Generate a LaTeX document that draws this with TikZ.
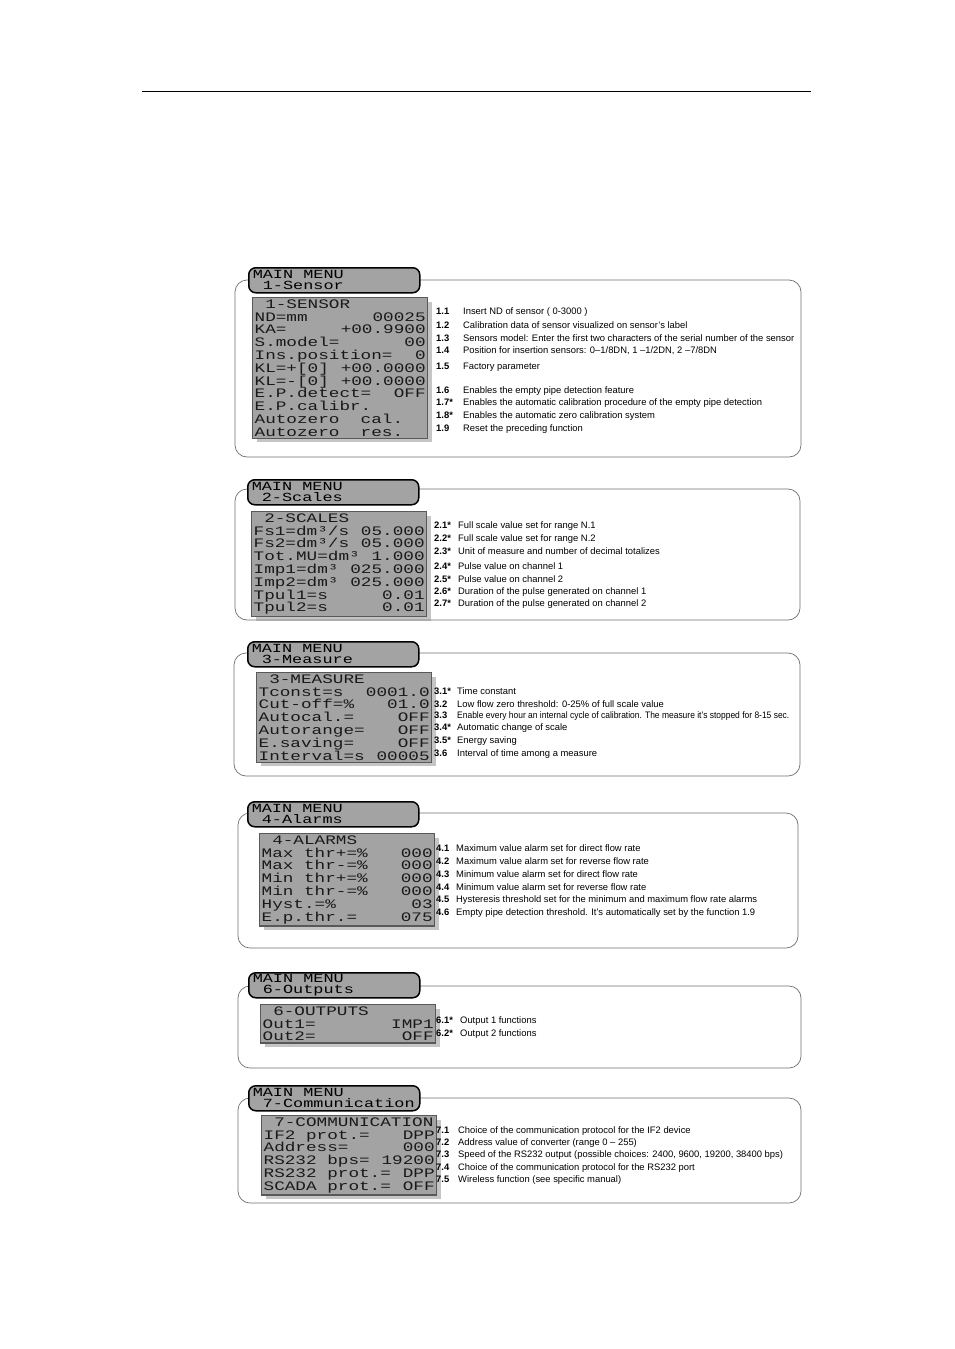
\documentclass[tikz,border=0pt]{standalone}
\usepackage{fontspec}
\setmainfont{Liberation Sans}
\newfontfamily\lcdfont[FakeStretch=1.36]{Liberation Mono}
\usepackage{xcolor}
\usepackage{tikz}
\usetikzlibrary{shadows}
\definecolor{lcdgray}{RGB}{163,163,163}
\definecolor{framegray}{RGB}{110,110,110}
\newcommand{\lcdtext}{\lcdfont\fontsize{13}{12.8}\selectfont}
\newcommand{\menutext}{\lcdfont\fontsize{12.4}{10.8}\selectfont}
\newcommand{\lcdgap}{\hphantom{0}}
\newcommand{\itemno}[2]{\makebox[#1][l]{\textbf{#2}}}

\begin{document}
\begin{tikzpicture}[x=1pt,y=-1pt,
    frame/.style={draw=framegray, line width=0.7pt, rounded corners=12pt},
    menu/.style={draw=black, line width=1.5pt, fill=lcdgray, rounded corners=7pt,
      anchor=north west, minimum width=171pt, minimum height=25pt,
      text width=163pt, align=left, inner xsep=4pt, inner ysep=0pt, font=\menutext},
    lcd/.style={draw=black!65, line width=1.3pt, fill=lcdgray,
      drop shadow={shadow xshift=4pt, shadow yshift=-4pt, fill=black!45, opacity=.5},
      anchor=north west, inner sep=2pt, text width=171pt, align=left,
      font=\lcdtext, text=black!90},
    desc/.style={anchor=west, inner sep=0pt, font=\fontsize{9.4}{11}\selectfont}]
    \useasboundingbox (0,0) rectangle (954,1349);

    \coordinate (ruleL) at (142,91);
    \coordinate (ruleR) at (811,91);
    \draw[line width=0.9pt] (ruleL) -- (ruleR);

    % 1 - sensor
    \draw[frame] (235,280) rectangle (801,457);
    \node[menu] (menu1) at (248,267) {MAIN\lcdgap MENU\\\lcdgap 1-Sensor};
    \node[lcd] (lcd1) at (252,297) {\lcdgap 1-SENSOR\\
      ND=mm\hfill 00025\\
      KA=\hfill +00.9900\\
      S.model=\hfill 00\\
      Ins.position=\hfill 0\\
      KL=+[0]\hfill +00.0000\\
      KL=-[0]\hfill +00.0000\\
      E.P.detect=\hfill OFF\\
      E.P.calibr.\\
      Autozero\lcdgap\lcdgap cal.\\
      Autozero\lcdgap\lcdgap res.};
    \node[desc] (d11) at (436,312) {\itemno{27pt}{1.1}Insert ND of sensor ( 0-3000 )};
    \node[desc] (d12) at (436,325) {\itemno{27pt}{1.2}Calibration data of sensor visualized on sensor's label};
    \node[desc] (d13) at (436,338) {\itemno{27pt}{1.3}Sensors model: Enter the first two characters of the serial number of the sensor};
    \node[desc] (d14) at (436,351) {\itemno{27pt}{1.4}Position for insertion sensors: 0–1/8DN, 1 –1/2DN, 2 –7/8DN};
    \node[desc] (d15) at (436,367) {\itemno{27pt}{1.5}Factory parameter};
    \node[desc] (d16) at (436,391) {\itemno{27pt}{1.6}Enables the empty pipe detection feature};
    \node[desc] (d17) at (436,403) {\itemno{27pt}{1.7*}Enables the automatic calibration procedure of the empty pipe detection};
    \node[desc] (d18) at (436,416) {\itemno{27pt}{1.8*}Enables the automatic zero calibration system};
    \node[desc] (d19) at (436,429) {\itemno{27pt}{1.9}Reset the preceding function};

    % 2 - scales
    \draw[frame] (235,489) rectangle (800,620);
    \node[menu] (menu2) at (247,479) {MAIN\lcdgap MENU\\\lcdgap 2-Scales};
    \node[lcd] (lcd2) at (251,511) {\lcdgap 2-SCALES\\
      Fs1=dm³/s\hfill 05.000\\
      Fs2=dm³/s\hfill 05.000\\
      Tot.MU=dm³\hfill 1.000\\
      Imp1=dm³\hfill 025.000\\
      Imp2=dm³\hfill 025.000\\
      Tpul1=s\hfill 0.01\\
      Tpul2=s\hfill 0.01};
    \node[desc] (d21) at (434,526) {\itemno{24pt}{2.1*}Full scale value set for range N.1};
    \node[desc] (d22) at (434,539) {\itemno{24pt}{2.2*}Full scale value set for range N.2};
    \node[desc] (d23) at (434,551) {\itemno{24pt}{2.3*}Unit of measure and number of decimal totalizes};
    \node[desc] (d24) at (434,566) {\itemno{24pt}{2.4*}Pulse value on channel 1};
    \node[desc] (d25) at (434,579) {\itemno{24pt}{2.5*}Pulse value on channel 2};
    \node[desc] (d26) at (434,592) {\itemno{24pt}{2.6*}Duration of the pulse generated on channel 1};
    \node[desc] (d27) at (434,604) {\itemno{24pt}{2.7*}Duration of the pulse generated on channel 2};

    % 3 - measure
    \draw[frame] (234,653) rectangle (800,776);
    \node[menu] (menu3) at (247,641) {MAIN\lcdgap MENU\\\lcdgap 3-Measure};
    \node[lcd] (lcd3) at (256,672) {\lcdgap 3-MEASURE\\
      Tconst=s\hfill 0001.0\\
      Cut-off=\%\hfill 01.0\\
      Autocal.=\hfill OFF\\
      Autorange=\hfill OFF\\
      E.saving=\hfill OFF\\
      Interval=s\hfill 00005};
    \node[desc] (d31) at (434,691) {\itemno{23pt}{3.1*}Time constant};
    \node[desc] (d32) at (434,704) {\itemno{23pt}{3.2}Low flow zero threshold: 0-25\% of full scale value};
    \node[desc] (d33) at (434,716) {\itemno{23pt}{3.3}\scalebox{0.9}[1]{Enable every hour an internal cycle of calibration. The measure it's stopped for 8-15 sec.}};
    \node[desc] (d34) at (434,728) {\itemno{23pt}{3.4*}Automatic change of scale};
    \node[desc] (d35) at (434,741) {\itemno{23pt}{3.5*}Energy saving};
    \node[desc] (d36) at (434,754) {\itemno{23pt}{3.6}Interval of time among a measure};

    % 4 - alarms
    \draw[frame] (238,813) rectangle (798,948);
    \node[menu] (menu4) at (247,801) {MAIN\lcdgap MENU\\\lcdgap 4-Alarms};
    \node[lcd] (lcd4) at (259,833) {\lcdgap 4-ALARMS\\
      Max\lcdgap thr+=\%\hfill 000\\
      Max\lcdgap thr-=\%\hfill 000\\
      Min\lcdgap thr+=\%\hfill 000\\
      Min\lcdgap thr-=\%\hfill 000\\
      Hyst.=\%\hfill 03\\
      E.p.thr.=\hfill 075};
    \node[desc] (d41) at (436,848) {\itemno{20pt}{4.1}Maximum value alarm set for direct flow rate};
    \node[desc] (d42) at (436,861) {\itemno{20pt}{4.2}Maximum value alarm set for reverse flow rate};
    \node[desc] (d43) at (436,874) {\itemno{20pt}{4.3}Minimum value alarm set for direct flow rate};
    \node[desc] (d44) at (436,887) {\itemno{20pt}{4.4}Minimum value alarm set for reverse flow rate};
    \node[desc] (d45) at (436,900) {\itemno{20pt}{4.5}Hysteresis threshold set for the minimum and maximum flow rate alarms};
    \node[desc] (d46) at (436,913) {\itemno{20pt}{4.6}Empty pipe detection threshold. It's automatically set by the function 1.9};

    % 6 - outputs
    \draw[frame] (238,986) rectangle (801,1068);
    \node[menu] (menu6) at (248,972) {MAIN\lcdgap MENU\\\lcdgap 6-Outputs};
    \node[lcd] (lcd6) at (260,1004) {\lcdgap 6-OUTPUTS\\
      Out1=\hfill IMP1\\
      Out2=\hfill OFF};
    \node[desc] (d61) at (436,1021) {\itemno{24pt}{6.1*}Output 1 functions};
    \node[desc] (d62) at (436,1034) {\itemno{24pt}{6.2*}Output 2 functions};

    % 7 - communication
    \draw[frame] (238,1098) rectangle (801,1203);
    \node[menu] (menu7) at (248,1085) {MAIN\lcdgap MENU\\\lcdgap 7-Communication};
    \node[lcd] (lcd7) at (261,1115) {\lcdgap 7-COMMUNICATION\\
      IF2\lcdgap prot.=\hfill DPP\\
      Address=\hfill 000\\
      RS232\lcdgap bps=\hfill 19200\\
      RS232\lcdgap prot.=\hfill DPP\\
      SCADA\lcdgap prot.=\hfill OFF};
    \node[desc] (d71) at (436,1131) {\itemno{22pt}{7.1}Choice of the communication protocol for the IF2 device};
    \node[desc] (d72) at (436,1143) {\itemno{22pt}{7.2}Address value of converter (range 0 – 255)};
    \node[desc] (d73) at (436,1155) {\itemno{22pt}{7.3}Speed of the RS232 output (possible choices: 2400, 9600, 19200, 38400 bps)};
    \node[desc] (d74) at (436,1168) {\itemno{22pt}{7.4}Choice of the communication protocol for the RS232 port};
    \node[desc] (d75) at (436,1180) {\itemno{22pt}{7.5}Wireless function (see specific manual)};
\end{tikzpicture}
\end{document}
